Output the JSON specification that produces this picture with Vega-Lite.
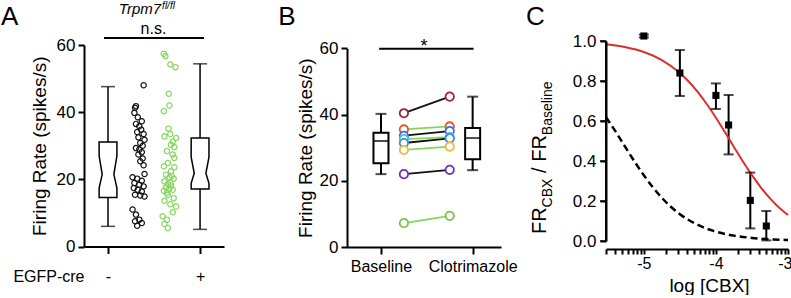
{
  "$schema": "https://vega.github.io/schema/vega-lite/v6.json",
  "background": "white",
  "padding": {"left": 0, "top": 0, "right": 0, "bottom": 0},
  "bounds": "flush",
  "spacing": 105,
  "datasets": {
    "scatA": [
      {"cre":"-","rate":48.0,"j":2.16},{"cre":"-","rate":41.8,"j":1.91},{"cre":"-","rate":41.3,"j":1.88},{"cre":"-","rate":39.8,"j":1.86},{"cre":"-","rate":38.5,"j":1.97},{"cre":"-","rate":37.3,"j":2.10},{"cre":"-","rate":36.5,"j":1.91},{"cre":"-","rate":35.8,"j":2.02},{"cre":"-","rate":34.8,"j":2.08},{"cre":"-","rate":34.1,"j":1.95},{"cre":"-","rate":33.5,"j":2.16},{"cre":"-","rate":32.5,"j":1.99},{"cre":"-","rate":31.8,"j":2.19},{"cre":"-","rate":30.8,"j":2.05},{"cre":"-","rate":30.0,"j":2.13},{"cre":"-","rate":29.3,"j":1.91},{"cre":"-","rate":28.9,"j":2.02},{"cre":"-","rate":28.1,"j":2.10},{"cre":"-","rate":27.4,"j":1.99},{"cre":"-","rate":26.2,"j":2.13},{"cre":"-","rate":25.4,"j":2.05},{"cre":"-","rate":24.2,"j":2.16},{"cre":"-","rate":21.6,"j":2.19},{"cre":"-","rate":20.6,"j":1.80},{"cre":"-","rate":20.2,"j":1.95},{"cre":"-","rate":19.6,"j":2.10},{"cre":"-","rate":18.9,"j":1.86},{"cre":"-","rate":18.4,"j":2.02},{"cre":"-","rate":17.9,"j":2.16},{"cre":"-","rate":17.4,"j":1.84},{"cre":"-","rate":16.9,"j":1.97},{"cre":"-","rate":16.4,"j":2.10},{"cre":"-","rate":15.4,"j":1.88},{"cre":"-","rate":15.2,"j":2.05},{"cre":"-","rate":14.9,"j":2.19},{"cre":"-","rate":11.0,"j":1.80},{"cre":"-","rate":9.5,"j":1.91},{"cre":"-","rate":8.0,"j":2.02},{"cre":"-","rate":7.5,"j":1.88},{"cre":"-","rate":7.0,"j":2.10},{"cre":"-","rate":6.2,"j":1.95},
      {"cre":"+","rate":57.4,"j":2.82},{"cre":"+","rate":56.7,"j":2.87},{"cre":"+","rate":54.2,"j":3.03},{"cre":"+","rate":53.4,"j":3.20},{"cre":"+","rate":45.5,"j":2.98},{"cre":"+","rate":42.0,"j":3.00},{"cre":"+","rate":40.3,"j":2.82},{"cre":"+","rate":35.1,"j":2.97},{"cre":"+","rate":33.5,"j":3.03},{"cre":"+","rate":32.8,"j":2.84},{"cre":"+","rate":32.3,"j":3.22},{"cre":"+","rate":31.3,"j":3.11},{"cre":"+","rate":30.3,"j":3.05},{"cre":"+","rate":29.6,"j":3.16},{"cre":"+","rate":28.4,"j":2.92},{"cre":"+","rate":27.4,"j":3.11},{"cre":"+","rate":26.4,"j":3.16},{"cre":"+","rate":24.9,"j":2.95},{"cre":"+","rate":23.9,"j":2.82},{"cre":"+","rate":23.6,"j":3.16},{"cre":"+","rate":22.4,"j":3.05},{"cre":"+","rate":21.4,"j":2.89},{"cre":"+","rate":21.0,"j":3.08},{"cre":"+","rate":20.6,"j":3.00},{"cre":"+","rate":20.2,"j":3.14},{"cre":"+","rate":19.4,"j":2.84},{"cre":"+","rate":19.0,"j":3.03},{"cre":"+","rate":18.6,"j":2.95},{"cre":"+","rate":18.2,"j":3.05},{"cre":"+","rate":17.6,"j":2.89},{"cre":"+","rate":17.2,"j":3.00},{"cre":"+","rate":16.9,"j":3.11},{"cre":"+","rate":16.6,"j":2.82},{"cre":"+","rate":16.0,"j":2.92},{"cre":"+","rate":15.4,"j":2.95},{"cre":"+","rate":14.4,"j":3.14},{"cre":"+","rate":13.6,"j":2.84},{"cre":"+","rate":12.6,"j":3.03},{"cre":"+","rate":11.9,"j":3.22},{"cre":"+","rate":10.2,"j":3.11},{"cre":"+","rate":9.0,"j":2.78},{"cre":"+","rate":8.0,"j":2.92},{"cre":"+","rate":6.7,"j":2.84},{"cre":"+","rate":5.5,"j":2.95}
    ],
    "boxA": [
      {"cre":"-","min":6.0,"q1":14.6,"nlo":17.4,"med":21.5,"nhi":27.0,"q3":31.1,"max":47.6},
      {"cre":"+","min":5.1,"q1":17.1,"nlo":18.8,"med":21.8,"nhi":26.6,"q3":32.3,"max":54.4}
    ],
    "boxB": [
      {"cond":"Baseline","min":22.0,"q1":25.3,"med":32.0,"q3":34.5,"max":40.2},
      {"cond":"Clotrimazole","min":23.2,"q1":26.5,"med":32.9,"q3":35.9,"max":45.4}
    ],
    "pairs": [
      {"cell":"1","cond":"Baseline","rate":40.4},{"cell":"1","cond":"Clotrimazole","rate":45.4},
      {"cell":"2","cond":"Baseline","rate":35.5},{"cell":"2","cond":"Clotrimazole","rate":36.4},
      {"cell":"3","cond":"Baseline","rate":33.6},{"cell":"3","cond":"Clotrimazole","rate":35.0},
      {"cell":"4","cond":"Baseline","rate":32.6},{"cell":"4","cond":"Clotrimazole","rate":33.2},
      {"cell":"5","cond":"Baseline","rate":31.4},{"cell":"5","cond":"Clotrimazole","rate":32.8},
      {"cell":"6","cond":"Baseline","rate":29.3},{"cell":"6","cond":"Clotrimazole","rate":30.3},
      {"cell":"7","cond":"Baseline","rate":22.0},{"cell":"7","cond":"Clotrimazole","rate":23.3},
      {"cell":"8","cond":"Baseline","rate":7.2},{"cell":"8","cond":"Clotrimazole","rate":9.4}
    ],
    "pointsC": [
      {"logc":-5.0,"fr":1.025,"lo":1.018,"hi":1.032},
      {"logc":-4.5,"fr":0.84,"lo":0.725,"hi":0.955},
      {"logc":-4.0,"fr":0.728,"lo":0.66,"hi":0.788},
      {"logc":-3.824,"fr":0.58,"lo":0.433,"hi":0.73},
      {"logc":-3.523,"fr":0.203,"lo":0.063,"hi":0.342},
      {"logc":-3.301,"fr":0.075,"lo":0.003,"hi":0.15}
    ],
    "curves": [
      {"fit":"CBX","logc":-5.525,"fr":0.9834},{"fit":"CBX","logc":-5.25,"fr":0.9689},{"fit":"CBX","logc":-5.0,"fr":0.9451},{"fit":"CBX","logc":-4.75,"fr":0.9049},{"fit":"CBX","logc":-4.5,"fr":0.8403},{"fit":"CBX","logc":-4.375,"fr":0.7964},{"fit":"CBX","logc":-4.25,"fr":0.7441},{"fit":"CBX","logc":-4.125,"fr":0.6836},{"fit":"CBX","logc":-4.0,"fr":0.6164},{"fit":"CBX","logc":-3.875,"fr":0.5444},{"fit":"CBX","logc":-3.75,"fr":0.4704},{"fit":"CBX","logc":-3.625,"fr":0.3977},{"fit":"CBX","logc":-3.5,"fr":0.3293},{"fit":"CBX","logc":-3.375,"fr":0.2674},{"fit":"CBX","logc":-3.25,"fr":0.2134},{"fit":"CBX","logc":-3.125,"fr":0.1678},{"fit":"CBX","logc":-3.0,"fr":0.1304},
      {"fit":"ref","logc":-5.525,"fr":0.6186},{"fit":"ref","logc":-5.4,"fr":0.5517},{"fit":"ref","logc":-5.25,"fr":0.4655},{"fit":"ref","logc":-5.1,"fr":0.3814},{"fit":"ref","logc":-5.0,"fr":0.3288},{"fit":"ref","logc":-4.875,"fr":0.2686},{"fit":"ref","logc":-4.75,"fr":0.2159},{"fit":"ref","logc":-4.625,"fr":0.1712},{"fit":"ref","logc":-4.5,"fr":0.1341},{"fit":"ref","logc":-4.25,"fr":0.0801},{"fit":"ref","logc":-4.0,"fr":0.0467},{"fit":"ref","logc":-3.75,"fr":0.0268},{"fit":"ref","logc":-3.5,"fr":0.0153},{"fit":"ref","logc":-3.25,"fr":0.0086},{"fit":"ref","logc":-3.0,"fr":0.0049}
    ],
    "ticksC": [{"v":0},{"v":0.2},{"v":0.4},{"v":0.6},{"v":0.8},{"v":1.0}],
    "one": [{}]
  },
  "hconcat": [
    {
      "width": 158,
      "height": 210,
      "layer": [
        {
          "data": {"name": "boxA"},
          "transform": [{"calculate": "datum.cre == '-' ? 1 : 4", "as": "pos"}],
          "mark": {"type": "rule", "color": "black", "strokeWidth": 1.5},
          "encoding": {
            "x": {"field": "pos", "type": "quantitative", "title": "EGFP-cre", "scale": {"domain": [0.217, 4.78], "range": [0, 140], "nice": false, "zero": false},
              "axis": {"values": [1, 4], "labelExpr": "datum.value == 1 ? '-' : '+'", "title": "EGFP-cre", "offset": -4.5, "tickSize": 7, "labelFontSize": 16, "labelBaseline": "alphabetic", "labelPadding": 27.5, "labelFlush": false, "labelOverlap": false, "titleFontSize": 16, "titleBaseline": "alphabetic", "titleAlign": "right", "titleX": 0, "titleY": 34.5}},
            "y": {"field": "min", "type": "quantitative", "title": "Firing Rate (spikes/s)", "scale": {"domain": [0, 60], "range": [205.5, 4], "nice": false, "zero": false},
              "axis": {"values": [0, 20, 40, 60], "title": "Firing Rate (spikes/s)", "tickSize": 6, "labelPadding": 3, "labelFontSize": 17, "titleFontSize": 19, "titlePadding": 7}},
            "y2": {"field": "max"}
          }
        },
        {
          "data": {"name": "boxA"},
          "transform": [{"calculate": "datum.cre == '-' ? 1 : 4", "as": "pos"}, {"fold": ["min", "max"], "as": ["k", "v"]}],
          "mark": {"type": "tick", "orient": "horizontal", "size": 14, "thickness": 1.5, "color": "black"},
          "encoding": {
            "x": {"field": "pos", "type": "quantitative", "title": "EGFP-cre"},
            "y": {"field": "v", "type": "quantitative", "title": "Firing Rate (spikes/s)"}
          }
        },
        {
          "data": {"name": "boxA"},
          "transform": [
            {"fold": ["q1", "nlo", "med", "nhi", "q3"], "as": ["k", "v"]},
            {"calculate": "datum.cre == '-' ? 1 : 4", "as": "pos"},
            {"calculate": "datum.k == 'med' ? 0.19 : 0.29", "as": "hw"},
            {"calculate": "datum.pos - datum.hw", "as": "xl"},
            {"calculate": "datum.pos + datum.hw", "as": "xr"}
          ],
          "mark": {"type": "area", "orient": "horizontal", "fill": "white", "stroke": "black", "strokeWidth": 1.5, "opacity": 1, "fillOpacity": 1},
          "encoding": {
            "y": {"field": "v", "type": "quantitative", "title": "Firing Rate (spikes/s)"},
            "x": {"field": "xl", "type": "quantitative", "title": "EGFP-cre"},
            "x2": {"field": "xr"},
            "detail": {"field": "cre"}
          }
        },
        {
          "data": {"name": "scatA"},
          "mark": {"type": "point", "shape": "circle", "filled": false, "size": 28, "strokeWidth": 1.2, "opacity": 1},
          "encoding": {
            "x": {"field": "j", "type": "quantitative", "title": "EGFP-cre"},
            "y": {"field": "rate", "type": "quantitative", "title": "Firing Rate (spikes/s)"},
            "color": {"field": "cre", "type": "nominal", "scale": {"domain": ["-", "+"], "range": ["#111111", "#86d65e"]}, "legend": null}
          }
        },
        {
          "data": {"name": "one"},
          "mark": {"type": "rule", "color": "black", "strokeWidth": 2},
          "encoding": {
            "x": {"datum": 0.87, "type": "quantitative"},
            "x2": {"datum": 4.13},
            "y": {"datum": 62.08, "type": "quantitative"}
          }
        },
        {
          "data": {"name": "one"},
          "mark": {"type": "text", "text": "n.s.", "fontSize": 16, "baseline": "alphabetic", "align": "center", "dy": -4, "color": "black"},
          "encoding": {"x": {"datum": 2.48, "type": "quantitative"}, "y": {"datum": 62.08, "type": "quantitative"}}
        },
        {
          "data": {"name": "one"},
          "mark": {"type": "text", "text": "Trpm7", "fontSize": 15, "fontStyle": "italic", "baseline": "alphabetic", "align": "right", "color": "black"},
          "encoding": {"x": {"datum": 2.73, "type": "quantitative"}, "y": {"datum": 69.24, "type": "quantitative"}}
        },
        {
          "data": {"name": "one"},
          "mark": {"type": "text", "text": "fl/fl", "fontSize": 10, "fontStyle": "italic", "baseline": "alphabetic", "align": "left", "dx": 1, "dy": -5, "color": "black"},
          "encoding": {"x": {"datum": 2.73, "type": "quantitative"}, "y": {"datum": 69.24, "type": "quantitative"}}
        },
        {
          "data": {"name": "one"},
          "mark": {"type": "text", "text": "A", "fontSize": 26, "baseline": "alphabetic", "align": "left", "color": "black"},
          "encoding": {"x": {"datum": -2.489, "type": "quantitative"}, "y": {"datum": 65.9, "type": "quantitative"}}
        }
      ]
    },
    {
      "width": 154,
      "height": 210,
      "layer": [
        {
          "data": {"name": "boxB"},
          "transform": [{"calculate": "datum.cond == 'Baseline' ? 1 : 5", "as": "pos"}],
          "mark": {"type": "rule", "color": "black", "strokeWidth": 2},
          "encoding": {
            "x": {"field": "pos", "type": "quantitative", "title": null, "scale": {"domain": [-0.265, 6.02], "nice": false, "zero": false},
              "axis": {"values": [1, 5], "labelExpr": "datum.value == 1 ? 'Baseline' : 'Clotrimazole'", "title": null, "offset": -4, "tickSize": 7, "labelFontSize": 16, "labelBaseline": "alphabetic", "labelPadding": 17, "labelFlush": false, "labelOverlap": false}},
            "y": {"field": "min", "type": "quantitative", "title": "Firing Rate (spikes/s)", "scale": {"domain": [0, 60], "range": [206, 7.3], "nice": false, "zero": false},
              "axis": {"values": [0, 20, 40, 60], "title": "Firing Rate (spikes/s)", "tickSize": 6, "labelPadding": 3, "labelFontSize": 17, "titleFontSize": 19, "titlePadding": 3.5}},
            "y2": {"field": "max"}
          }
        },
        {
          "data": {"name": "boxB"},
          "transform": [{"calculate": "datum.cond == 'Baseline' ? 1 : 5", "as": "pos"}, {"fold": ["min", "max"], "as": ["k", "v"]}],
          "mark": {"type": "tick", "orient": "horizontal", "size": 11, "thickness": 2, "color": "black"},
          "encoding": {
            "x": {"field": "pos", "type": "quantitative", "title": null},
            "y": {"field": "v", "type": "quantitative", "title": "Firing Rate (spikes/s)"}
          }
        },
        {
          "data": {"name": "boxB"},
          "transform": [{"calculate": "datum.cond == 'Baseline' ? 1 : 5", "as": "pos"}],
          "mark": {"type": "bar", "width": 15, "fill": "white", "stroke": "black", "strokeWidth": 2},
          "encoding": {
            "x": {"field": "pos", "type": "quantitative", "title": null},
            "y": {"field": "q1", "type": "quantitative", "title": "Firing Rate (spikes/s)"},
            "y2": {"field": "q3"}
          }
        },
        {
          "data": {"name": "boxB"},
          "transform": [{"calculate": "datum.cond == 'Baseline' ? 1 : 5", "as": "pos"}],
          "mark": {"type": "tick", "orient": "horizontal", "size": 15, "thickness": 2, "color": "black"},
          "encoding": {
            "x": {"field": "pos", "type": "quantitative", "title": null},
            "y": {"field": "med", "type": "quantitative", "title": "Firing Rate (spikes/s)"}
          }
        },
        {
          "data": {"name": "pairs"},
          "transform": [{"calculate": "datum.cond == 'Baseline' ? 2 : 4", "as": "pos"}],
          "mark": {"type": "line", "strokeWidth": 1.8},
          "encoding": {
            "x": {"field": "pos", "type": "quantitative", "title": null},
            "y": {"field": "rate", "type": "quantitative", "title": "Firing Rate (spikes/s)"},
            "color": {"field": "cell", "type": "nominal", "scale": {"domain": ["1","2","3","4","5","6","7","8"], "range": ["#a0233c","#e4562c","#3d6fd6","#4cbdf0","#3a8fe0","#f2b93a","#6c2fc8","#80c447"]}, "legend": null}
          }
        },
        {
          "data": {"name": "pairs"},
          "transform": [{"calculate": "datum.cond == 'Baseline' ? 2 : 4", "as": "pos"}],
          "mark": {"type": "point", "shape": "circle", "filled": true, "fill": "white", "size": 70, "strokeWidth": 1.8, "opacity": 1},
          "encoding": {
            "x": {"field": "pos", "type": "quantitative", "title": null},
            "y": {"field": "rate", "type": "quantitative", "title": "Firing Rate (spikes/s)"},
            "stroke": {"field": "cell", "type": "nominal", "scale": {"domain": ["1","2","3","4","5","6","7","8"], "range": ["#a0233c","#e4562c","#3d6fd6","#4cbdf0","#3a8fe0","#f2b93a","#6c2fc8","#80c447"]}, "legend": null}
          }
        },
        {
          "data": {"name": "one"},
          "mark": {"type": "rule", "color": "black", "strokeWidth": 2},
          "encoding": {
            "x": {"datum": 0.92, "type": "quantitative"},
            "x2": {"datum": 5.04},
            "y": {"datum": 59.9, "type": "quantitative"}
          }
        },
        {
          "data": {"name": "one"},
          "mark": {"type": "text", "text": "*", "fontSize": 18, "baseline": "alphabetic", "align": "center", "dy": 3, "color": "black"},
          "encoding": {"x": {"datum": 2.88, "type": "quantitative"}, "y": {"datum": 59.9, "type": "quantitative"}}
        },
        {
          "data": {"name": "one"},
          "mark": {"type": "text", "text": "B", "fontSize": 26, "baseline": "alphabetic", "align": "left", "color": "black"},
          "encoding": {"x": {"datum": -3.489, "type": "quantitative"}, "y": {"datum": 67.0, "type": "quantitative"}}
        }
      ]
    },
    {
      "width": 182,
      "height": 210,
      "encoding": {
        "x": {"type": "quantitative", "title": "log [CBX]", "scale": {"domain": [-5.525, -3], "nice": false, "zero": false},
          "axis": {"values": [-5.5229, -5.3979, -5.301, -5.2218, -5.1549, -5.0969, -5.0458, -5, -4.699, -4.5229, -4.3979, -4.301, -4.2218, -4.1549, -4.0969, -4.0458, -4, -3.699, -3.5229, -3.3979, -3.301, -3.2218, -3.1549, -3.0969, -3.0458, -3],
            "labelExpr": "datum.value == -5 ? '-5' : datum.value == -4 ? '-4' : datum.value == -3 ? '-3' : ''",
            "title": "log [CBX]", "offset": -2, "tickSize": 5, "domain": true, "ticks": true,
            "labelFontSize": 16, "labelBaseline": "alphabetic", "labelPadding": 14, "labelFlush": true, "labelFlushOffset": 4, "labelOverlap": false,
            "titleFontSize": 19, "titleBaseline": "alphabetic", "titleAlign": "center", "titleX": 103, "titleY": 42}},
        "y": {"type": "quantitative", "title": " ", "scale": {"domain": [0, 1.0], "range": [200, 0], "nice": false, "zero": false},
          "axis": {"values": [0, 0.2, 0.4, 0.6, 0.8, 1.0], "labelExpr": "format(datum.value, '.1f')", "title": " ", "orient": "left", "domain": true, "ticks": true, "domainColor": "#000000", "tickColor": "#000000", "domainWidth": 2, "tickWidth": 2, "tickSize": 6, "labelPadding": 4, "labelFontSize": 17, "labelOverlap": false, "zindex": 1}}
      },
      "layer": [
        {
          "data": {"name": "pointsC"},
          "mark": {"type": "rule", "color": "black", "strokeWidth": 2},
          "encoding": {
            "x": {"field": "logc"},
            "y": {"field": "lo"},
            "y2": {"field": "hi"}
          }
        },
        {
          "data": {"name": "one"},
          "mark": {"type": "rule", "color": "black", "strokeWidth": 2},
          "encoding": {
            "x": {"datum": -5.525},
            "y": {"datum": 0},
            "y2": {"datum": 1.0}
          }
        },
        {
          "data": {"name": "ticksC"},
          "mark": {"type": "tick", "orient": "horizontal", "size": 6, "thickness": 2, "color": "black", "xOffset": -3},
          "encoding": {
            "x": {"datum": -5.525},
            "y": {"field": "v"}
          }
        },
        {
          "data": {"name": "curves"},
          "transform": [{"filter": "datum.fit == 'ref'"}],
          "mark": {"type": "line", "color": "black", "strokeWidth": 2.5, "strokeDash": [7, 4], "interpolate": "monotone"},
          "encoding": {"x": {"field": "logc"}, "y": {"field": "fr"}}
        },
        {
          "data": {"name": "curves"},
          "transform": [{"filter": "datum.fit == 'CBX'"}],
          "mark": {"type": "line", "color": "#d9302b", "strokeWidth": 2, "interpolate": "monotone"},
          "encoding": {"x": {"field": "logc"}, "y": {"field": "fr"}}
        },
        {
          "data": {"name": "pointsC"},
          "transform": [{"fold": ["lo", "hi"], "as": ["k", "v"]}],
          "mark": {"type": "tick", "orient": "horizontal", "size": 10, "thickness": 2, "color": "black"},
          "encoding": {"x": {"field": "logc"}, "y": {"field": "v"}}
        },
        {
          "data": {"name": "pointsC"},
          "mark": {"type": "point", "shape": "square", "color": "black", "filled": true, "size": 50, "opacity": 1},
          "encoding": {"x": {"field": "logc"}, "y": {"field": "fr"}}
        },
        {
          "data": {"name": "one"},
          "mark": {"type": "text", "text": "FR", "fontSize": 20, "angle": 270, "align": "left", "baseline": "alphabetic", "color": "black"},
          "encoding": {"x": {"datum": -6.357}, "y": {"datum": 0.035}}
        },
        {
          "data": {"name": "one"},
          "mark": {"type": "text", "text": "CBX", "fontSize": 14, "angle": 270, "align": "left", "baseline": "alphabetic", "dy": 6, "color": "black"},
          "encoding": {"x": {"datum": -6.357}, "y": {"datum": 0.168}}
        },
        {
          "data": {"name": "one"},
          "mark": {"type": "text", "text": "/ FR", "fontSize": 20, "angle": 270, "align": "left", "baseline": "alphabetic", "color": "black"},
          "encoding": {"x": {"datum": -6.357}, "y": {"datum": 0.3405}}
        },
        {
          "data": {"name": "one"},
          "mark": {"type": "text", "text": "Baseline", "fontSize": 14, "angle": 270, "align": "left", "baseline": "alphabetic", "dy": 6, "color": "black"},
          "encoding": {"x": {"datum": -6.357}, "y": {"datum": 0.529}}
        },
        {
          "data": {"name": "one"},
          "mark": {"type": "text", "text": "C", "fontSize": 26, "baseline": "alphabetic", "align": "left", "color": "black"},
          "encoding": {"x": {"datum": -6.635}, "y": {"datum": 1.08}}
        }
      ]
    }
  ],
  "config": {
    "font": "Liberation Sans",
    "view": {"stroke": null},
    "axis": {"domainColor": "#000000", "domainWidth": 2, "tickColor": "#000000", "tickWidth": 2, "labelColor": "#000000", "titleColor": "#000000", "titleFontWeight": "normal", "grid": false, "labelFont": "Liberation Sans", "titleFont": "Liberation Sans"},
    "text": {"font": "Liberation Sans"}
  }
}
